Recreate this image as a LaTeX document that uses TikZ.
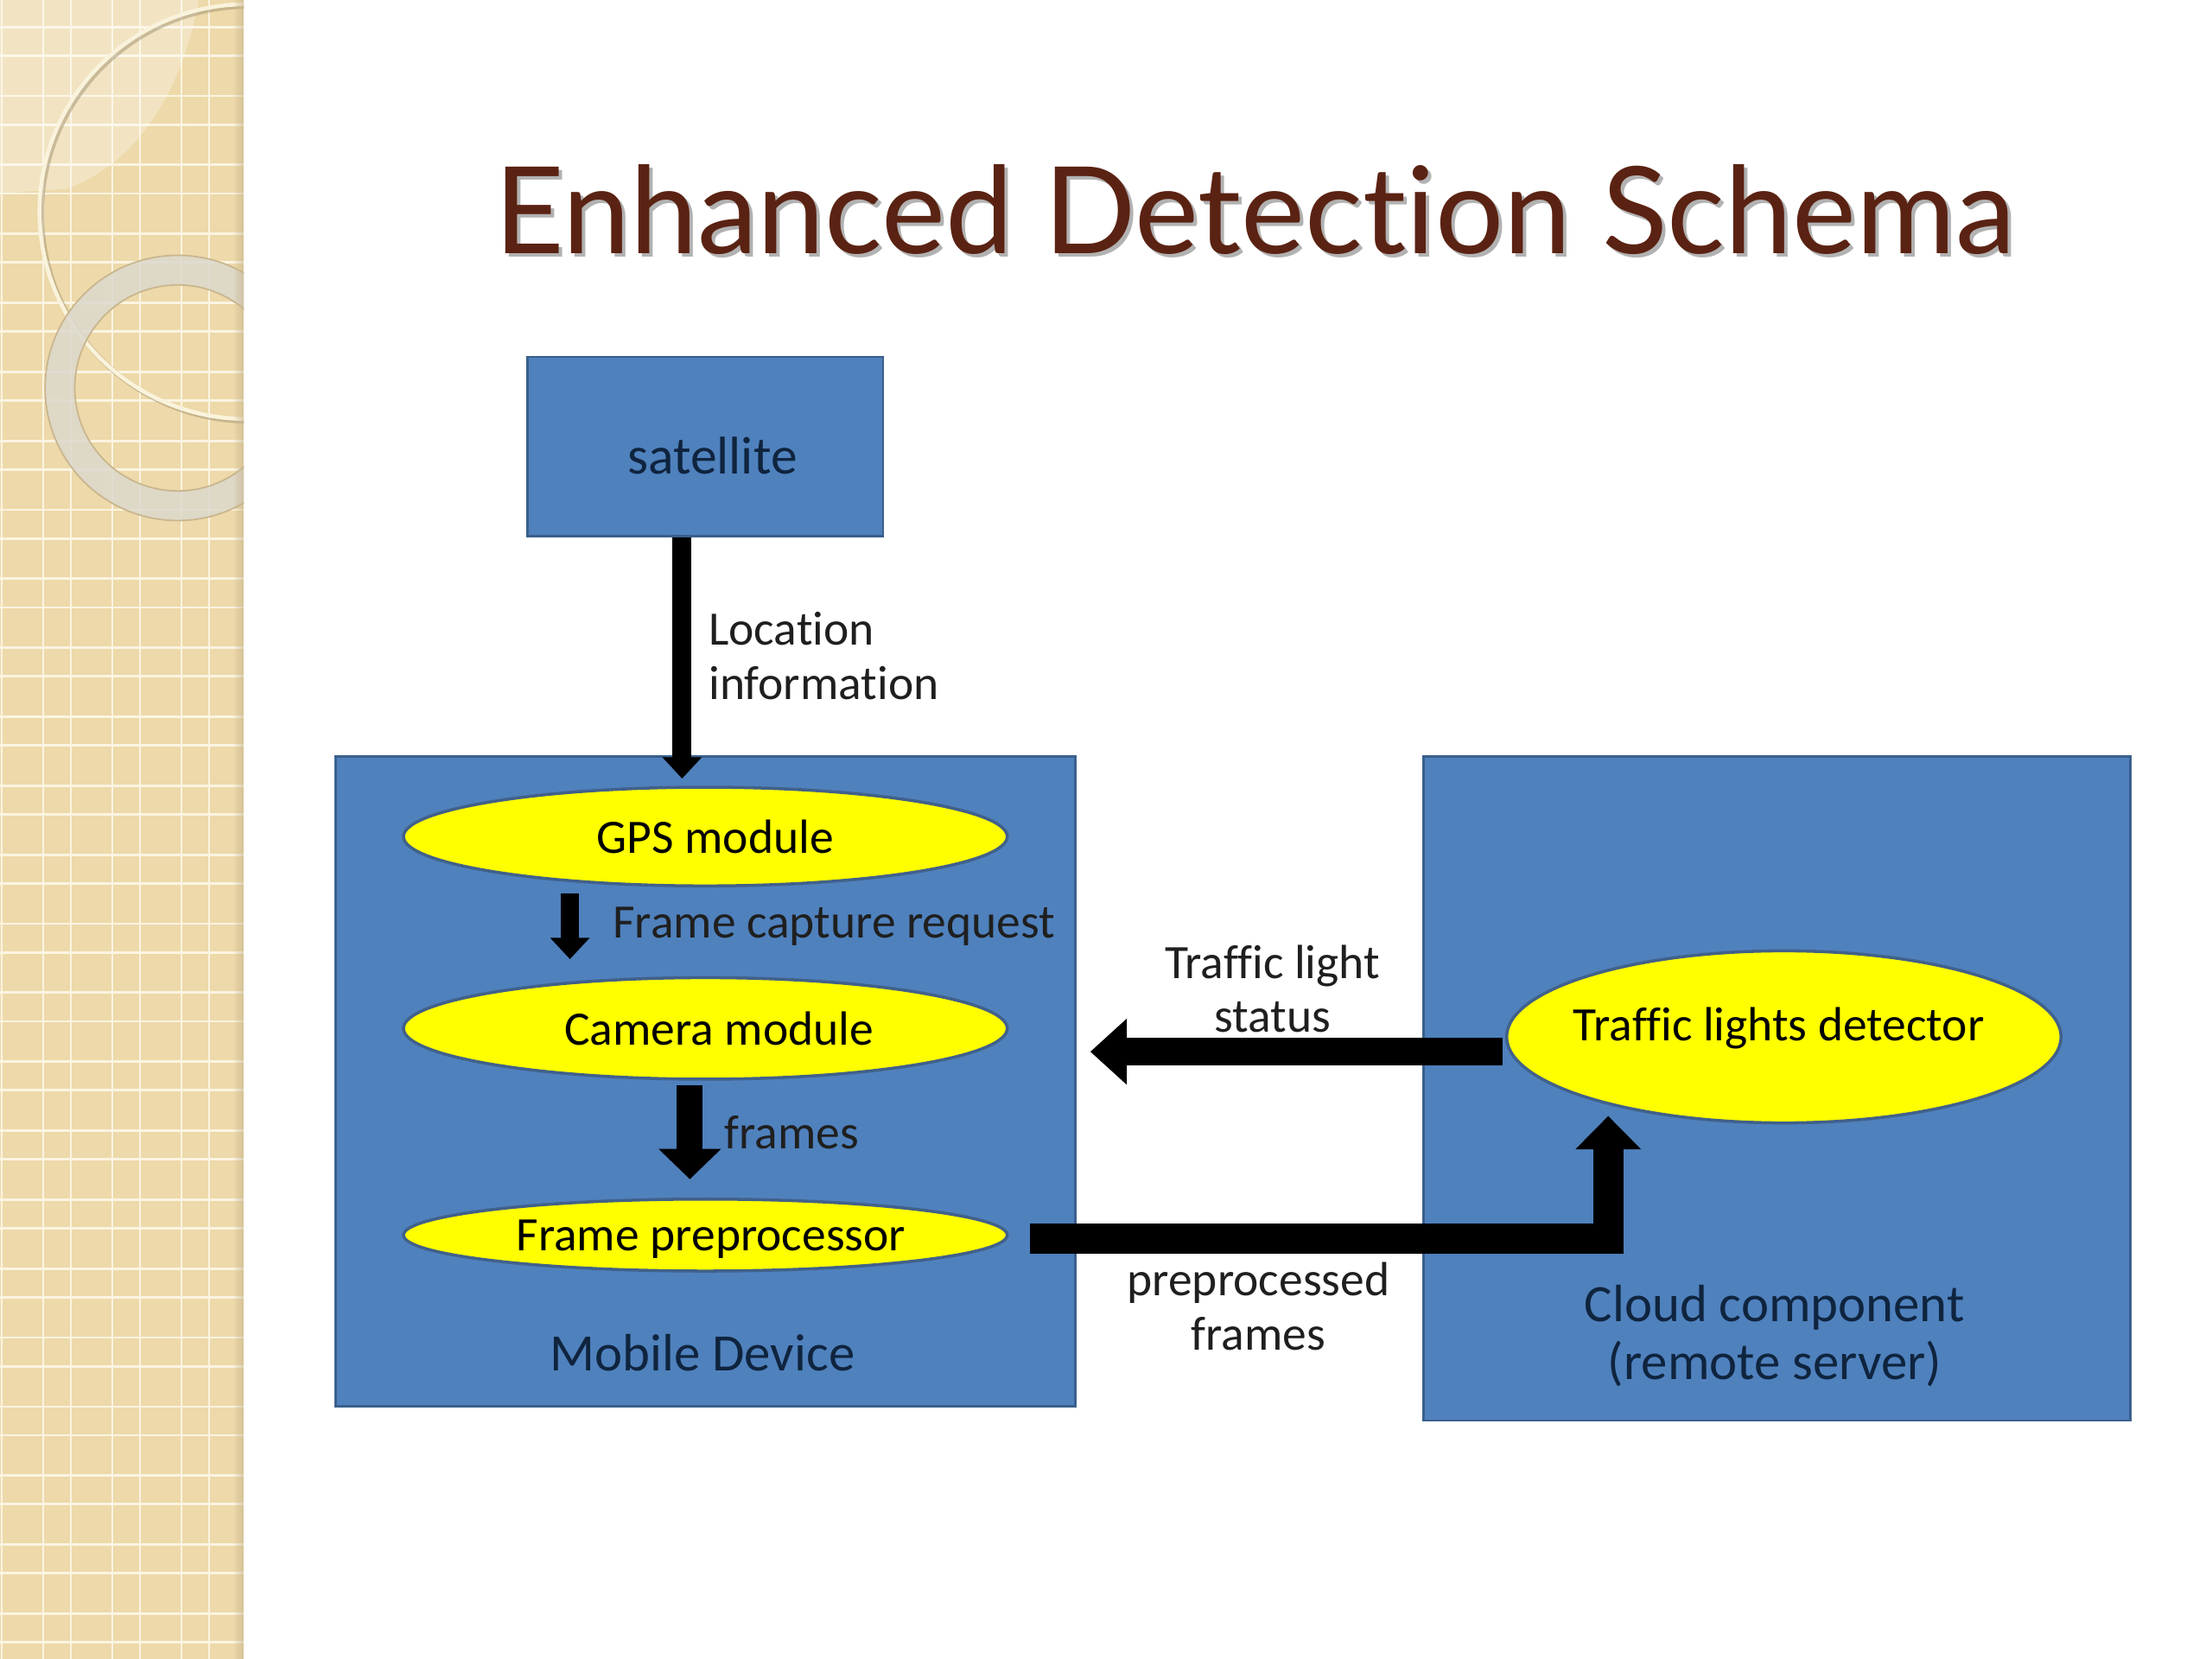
\documentclass[tikz,border=0pt]{standalone}
\usepackage{fontspec}
\usepackage{graphicx}
\setmainfont{Carlito}[Ligatures=NoCommon]
\newfontfamily\titlefont{Lato}[Ligatures=NoCommon]
\usetikzlibrary{shapes.geometric,arrows.meta,calc}
\definecolor{boxblue}{HTML}{4F81BD}
\definecolor{boxedge}{HTML}{3A5F8C}
\definecolor{ellyellow}{HTML}{FFFF00}
\definecolor{elledge}{HTML}{41618A}
\definecolor{navytext}{HTML}{0F243E}
\definecolor{titlebrown}{HTML}{5A2212}
\definecolor{striptan}{HTML}{EDD9A9}
\definecolor{gridline}{HTML}{FBF4E2}
\definecolor{ringcream}{HTML}{FAF3DC}
\definecolor{ringgrey}{HTML}{DCD8CD}
\definecolor{stripedge}{HTML}{C9B68E}
\def\dpx{0.46455pt}
\begin{document}
\begin{tikzpicture}[x=\dpx,y=-\dpx,
  bluebox/.style={draw=boxedge, line width=0.8pt, fill=boxblue, inner sep=0pt},
  module/.style={ellipse, draw=elledge, line width=1pt, fill=ellyellow, inner sep=0pt,
    font=\fontsize{15.8}{18}\selectfont, text=black, text depth=0pt},
  lbl/.style={font=\fontsize{15.8}{17.7}\selectfont, text=black!88, inner sep=0pt},
  boxlbl/.style={font=\fontsize{17.3}{19}\selectfont, text=navytext, inner sep=0pt, align=center},
  blockarrow/.style n args={3}{draw=black, line width=#1, -{Triangle[width=#2,length=#3]}}
]
\useasboundingbox (0,0) rectangle (1568,1176);
\fill[white] (0,0) rectangle (1568,1176);

% decorative strip
\fill[striptan] (0,0) rectangle (173,1176);
\foreach \k in {0,...,23} {
  \draw[gridline, line width=0.8pt] (0,19.1+48.9*\k) -- (173,19.1+48.9*\k);
  \draw[gridline, line width=0.8pt] (0,39.4+48.9*\k) -- (173,39.4+48.9*\k);
}
\foreach \k in {0,...,2} {
  \draw[gridline, line width=0.8pt] (30.6+49*\k,0) -- (30.6+49*\k,1176);
  \draw[gridline, line width=0.8pt] (50.2+49*\k,0) -- (50.2+49*\k,1176);
}
\draw[gridline, line width=0.8pt] (1.2,0) -- (1.2,1176);
\begin{scope}
  \clip (0,0) rectangle (173,1176);
  \fill[white, opacity=0.3] (0,0) -- (0,137) -- (47,134) .. controls (100,115) and (130,60) .. (141,0) -- cycle;
  \draw[stripedge!80!black, opacity=0.5, line width=1.6pt] (176.5,151.5) circle (147);
  \draw[ringcream, line width=1.3pt] (175,150) circle (147);
  \fill[ringgrey, opacity=0.85, even odd rule] (126,275) circle (94) (126,275) circle (73);
  \draw[stripedge, line width=0.5pt] (126,275) circle (94);
  \draw[stripedge, line width=0.5pt] (126,275) circle (73);
  \foreach \i in {0,...,5} {
    \fill[stripedge, opacity=0.12] (166+\i*1.2,0) rectangle (173,1176);
  }
\end{scope}

% title
\node[anchor=base west, inner sep=0pt, text=black, opacity=0.3] (titleshadow) at (352.5,182.5)
  {\resizebox{500.8pt}{!}{\titlefont Enhanced Detection Schema}};
\node[anchor=base west, inner sep=0pt, text=titlebrown] (title) at (350,180)
  {\resizebox{500.8pt}{!}{\titlefont Enhanced Detection Schema}};

% boxes
\node[bluebox, minimum width=252*\dpx, minimum height=127*\dpx] (sat) at (500,316.5) {};
\node[boxlbl, font=\fontsize{17.5}{19}\selectfont] (satlbl) at (505,323) {satellite};
\node[bluebox, minimum width=524*\dpx, minimum height=461*\dpx] (mobile) at (500,766.5) {};
\node[bluebox, minimum width=501*\dpx, minimum height=471*\dpx] (cloud) at (1259.5,771.5) {};
\node[boxlbl] (mobilelbl) at (498,959) {Mobile Device};
\node[boxlbl] (cloudlbl) at (1258,947) {Cloud component\\(remote server)};

% modules
\node[module, minimum width=428*\dpx, minimum height=70*\dpx] (gps) at (500,593) {\hspace*{6.5pt}GPS module};
\node[module, minimum width=428*\dpx, minimum height=72*\dpx] (cam) at (500,729) {\hspace*{9pt}Camera module};
\node[module, minimum width=428*\dpx, minimum height=51*\dpx] (pre) at (500,875.5) {\hspace*{3.7pt}Frame preprocessor};
\node[module, minimum width=393*\dpx, minimum height=122*\dpx] (det) at (1264.5,735) {};
\node[lbl, text=black] (detlbl) at (1261,729) {Traffic lights detector};

% arrows
\draw[blockarrow={6.3pt}{12.5pt}{7pt}] ($(sat.south)+(-16.5,0)$) -- ($(gps.north)+(-16.5,-5)$);
\draw[blockarrow={5.8pt}{12.5pt}{7pt}] ($(gps.south)+(-96,4)$) -- ($(cam.north)+(-96,-12)$);
\draw[blockarrow={8.6pt}{20pt}{10pt}] ($(cam.south)+(-11,3)$) -- ($(pre.north)+(-11,-13)$);
\draw[blockarrow={9.3pt}{21pt}{12pt}] ($(det.west)+(-2,10.5)$) -- ($(mobile.east)+(10,-21)$);
\draw[blockarrow={10pt}{21pt}{11pt}, line join=miter] ($(pre.east)+(15,2.5)$) -| ($(det.south)+(-124.5,-6)$);

% labels
\node[lbl, anchor=west, align=left] (loclbl) at (502,465) {Location\\information};
\node[lbl, anchor=west] (fcrlbl) at (434,657) {Frame capture request};
\node[lbl, anchor=west] (frameslbl) at (513,803) {frames};
\node[lbl, align=center] (statuslbl) at (902,701) {Traffic light\\status};
\node[lbl, align=center] (pflbl) at (892,926) {preprocessed\\frames};
\end{tikzpicture}
\end{document}
